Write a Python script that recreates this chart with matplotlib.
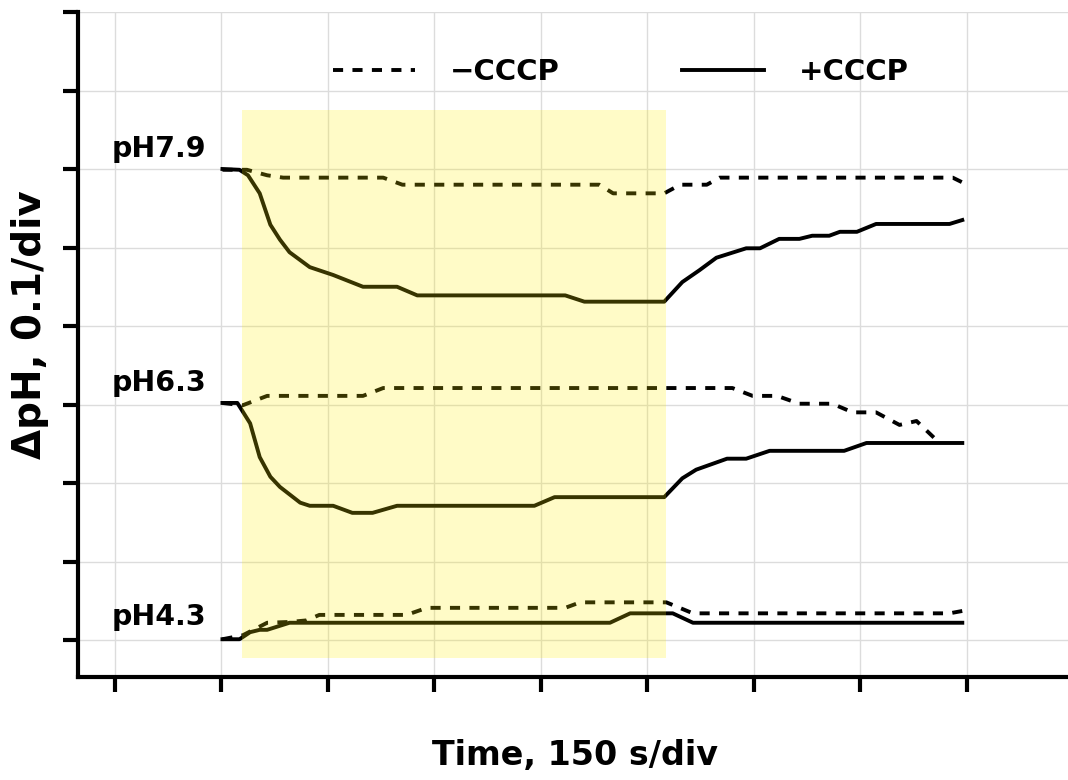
import matplotlib
matplotlib.use("Agg")
import matplotlib.pyplot as plt
from matplotlib.lines import Line2D
from matplotlib.patches import Rectangle

plt.rcParams['font.family'] = ['DejaVu Sans']
plt.rcParams['font.weight'] = 'bold'

# time in divisions (150 s/div), dpH in divisions (0.1/div), traces offset vertically
x79_plus = [1.01, 1.17, 1.25, 1.36, 1.46, 1.55, 1.64, 1.83, 2.05, 2.33, 2.65, 2.84, 4.23, 4.41, 5.16,
            5.33, 5.49, 5.65, 5.93, 6.06, 6.24, 6.43, 6.55, 6.71, 6.81, 6.97, 7.15, 7.84, 7.96]
y79_plus = [6.00, 5.99, 5.92, 5.69, 5.29, 5.10, 4.94, 4.75, 4.65, 4.50, 4.50, 4.39, 4.39, 4.31, 4.31,
            4.56, 4.71, 4.87, 4.99, 4.99, 5.11, 5.11, 5.15, 5.15, 5.20, 5.20, 5.30, 5.30, 5.35]

x79_minus = [1.01, 1.24, 1.43, 1.58, 2.52, 2.70, 4.55, 4.68, 5.16, 5.31, 5.56, 5.68, 7.87, 7.96]
y79_minus = [5.99, 5.99, 5.92, 5.89, 5.89, 5.80, 5.80, 5.69, 5.69, 5.80, 5.80, 5.89, 5.89, 5.83]

x63_plus = [1.01, 1.15, 1.27, 1.36, 1.46, 1.55, 1.74, 1.83, 2.05, 2.23, 2.42, 2.65, 3.94, 4.13, 5.16,
            5.33, 5.46, 5.75, 5.93, 6.15, 6.85, 7.06, 7.96]
y63_plus = [3.02, 3.02, 2.76, 2.33, 2.08, 1.95, 1.75, 1.71, 1.71, 1.62, 1.62, 1.71, 1.71, 1.82, 1.82,
            2.06, 2.17, 2.31, 2.31, 2.41, 2.41, 2.51, 2.51]

x63_minus = [1.01, 1.20, 1.43, 2.33, 2.52, 5.80, 5.99, 6.22, 6.43, 6.74, 6.93, 7.15, 7.37, 7.53, 7.70]
y63_minus = [3.02, 2.99, 3.11, 3.11, 3.21, 3.21, 3.11, 3.11, 3.01, 3.01, 2.90, 2.90, 2.74, 2.79, 2.57]

x43_plus = [1.01, 1.17, 1.27, 1.36, 1.43, 1.64, 4.65, 4.84, 5.24, 5.43, 7.96]
y43_plus = [0.01, 0.01, 0.10, 0.13, 0.13, 0.22, 0.22, 0.34, 0.34, 0.22, 0.22]

x43_minus = [1.01, 1.20, 1.43, 1.64, 1.80, 1.92, 2.74, 2.93, 4.23, 4.37, 5.18, 5.43, 7.84, 7.96]
y43_minus = [0.01, 0.06, 0.22, 0.23, 0.25, 0.32, 0.32, 0.41, 0.41, 0.48, 0.48, 0.34, 0.34, 0.37]

ph_labels = ["pH7.9", "pH6.3", "pH4.3"]
ph_label_y = [6.15, 3.17, 0.19]
legend_labels = ["\u2212CCCP", "+CCCP"]
light_on = (1.19, 5.18)   # illuminated interval (divisions)
light_y = (-0.23, 6.75)

fig = plt.figure(figsize=(10.68, 7.8), dpi=100)
ax = fig.add_axes([78/1068, 1 - 677/780, 990/1068, 665/780])

lw = 2.8
dash = (2.6, 2.4)
ax.plot(x79_minus, y79_minus, color='black', lw=lw, dashes=dash, zorder=3)
ax.plot(x79_plus, y79_plus, color='black', lw=lw, zorder=3)
ax.plot(x63_minus, y63_minus, color='black', lw=lw, dashes=dash, zorder=3)
ax.plot(x63_plus, y63_plus, color='black', lw=lw, zorder=3)
ax.plot(x43_minus, y43_minus, color='black', lw=lw, dashes=dash, zorder=3)
ax.plot(x43_plus, y43_plus, color='black', lw=lw, zorder=3)

ax.add_patch(Rectangle((light_on[0], light_y[0]), light_on[1] - light_on[0], light_y[1] - light_y[0],
                       facecolor='#ffee00', alpha=0.22, edgecolor='none', zorder=4))

for lab, yy in zip(ph_labels, ph_label_y):
    ax.text(-0.03, yy, lab, fontsize=20.5, fontweight='bold', ha='left', va='baseline', zorder=5)

ax.set_xlim(-0.347, 8.953)
ax.set_ylim(-0.471, 8.0)
ax.set_xticks(range(0, 9))
ax.set_yticks(range(0, 9))
ax.tick_params(axis='both', direction='out', length=11, width=3, labelbottom=False, labelleft=False)
ax.grid(True, color='#dcdcdc', lw=1.0, zorder=0)
ax.set_axisbelow(True)
for s in ['top', 'right']:
    ax.spines[s].set_visible(False)
for s in ['left', 'bottom']:
    ax.spines[s].set_linewidth(3)

ax.set_xlabel("Time, 150 s/div", fontsize=24, fontweight='bold', va='center')
ax.xaxis.set_label_coords((575 - 78) / 990, (677 - 755) / 665)
ax.set_ylabel("\u0394pH, 0.1/div", fontsize=28, fontweight='bold', va='center')
ax.yaxis.set_label_coords((30 - 78) / 990, (677 - 325) / 665)

handles = [Line2D([], [], color='black', lw=lw, dashes=dash),
           Line2D([], [], color='black', lw=lw)]
leg = ax.legend(handles, legend_labels, loc='center left',
                bbox_to_anchor=((333 - 78) / 990, (677 - 72) / 665),
                ncol=2, frameon=False, prop={'weight': 'bold', 'size': 21},
                handlelength=2.8, handletextpad=1.2, columnspacing=4.2,
                borderpad=0, borderaxespad=0)

fig.savefig("out.png", dpi=100)
